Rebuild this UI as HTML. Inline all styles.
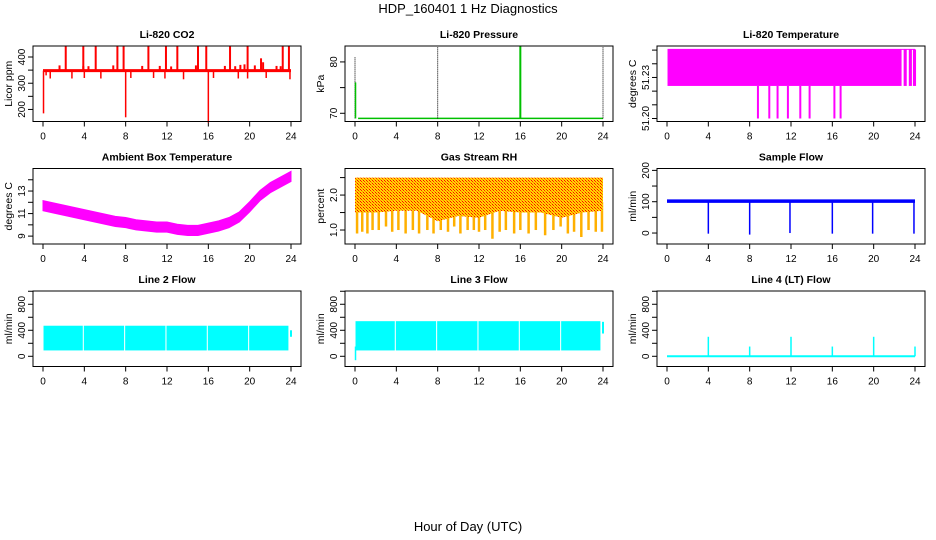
<!DOCTYPE html>
<html><head><meta charset="utf-8"><style>
body{margin:0;background:#fff}
svg{display:block;font-family:"Liberation Sans",sans-serif}
</style></head><body>
<svg id="c" width="936" height="540" viewBox="0 0 936 540">
<defs>
<pattern id="rhpat" width="3" height="3" patternUnits="userSpaceOnUse">
<rect width="3" height="3" fill="#ffd800"/><rect width="1" height="1" fill="#ff0000"/><rect x="1" y="1" width="1" height="1" fill="#ff2000"/><rect x="2" y="2" width="1" height="1" fill="#ff8000"/>
</pattern>
</defs>
<text x="468" y="13" text-anchor="middle" font-size="13">HDP_160401  1 Hz Diagnostics</text>
<text x="468" y="531" text-anchor="middle" font-size="13">Hour of Day (UTC)</text>
</svg>
<script>
const hourTicks=[0,4,8,12,16,20,24];
// CO2
const co2Base=348;
const co2UpHours=[2.2,3.9,5.1,7.2,7.8,10.2,11.9,13.0,15.0,15.8,18.1,19.8,21.1,23.2,23.8];
const co2UpVals=[440,440,440,440,440,440,440,440,440,440,440,442,395,440,440];
const co2DownHours=[0.3,0.7,2.8,4.0,5.6,8.5,10.7,11.8,13.6,16.5,18.9,19.8,21.6,23.9];
const co2DownVals=[330,318,318,320,318,320,320,318,315,320,318,318,320,315];
const co2BigDipHours=[0.05,8.0,16.0];
const co2BigDipVals=[185,170,150];
const co2BumpHours=[1.6,3.9,4.4,6.8,9.6,11.3,12.4,14.8,17.6,18.6,19.1,19.5,20.5,21.3,22.6,23.0];
const co2BumpVals=[368,365,365,368,366,366,364,368,366,365,370,372,368,380,366,365];
// Pressure
const presBase=69;
const presSpikeHours=[0.0,8.0,16.0,24.0];
const presSpikeVals=[81,83,83,83];
// Li-820 temperature
const ltBandLow=51.2238, ltBandHigh=51.2505, ltBandStart=0.05, ltBandEnd=22.7;
const ltGapHours=[22.9,23.4,23.8];
const ltDipHours=[8.8,9.9,10.7,11.7,12.9,13.8,16.2,16.8];
const ltDipVals=[51.2,51.2,51.2,51.2,51.2,51.2,51.2,51.2];
// Ambient box temperature
const ambHours=[0,1,2,3,4,5,6,7,8,9,10,11,12,13,14,15,16,17,18,19,20,21,22,23,24];
const ambVals=[11.7,11.5,11.3,11.1,10.9,10.7,10.5,10.3,10.2,10.0,9.9,9.8,9.8,9.6,9.5,9.5,9.7,9.9,10.2,10.7,11.6,12.6,13.3,13.8,14.3];
// Gas stream RH
const rhTop=2.5;
const rhLowHours=[0,2,4,6,8,10,12,14,16,18,20,22,24];
const rhLowVals=[1.5,1.5,1.55,1.55,1.25,1.4,1.35,1.55,1.5,1.5,1.35,1.5,1.55];
const rhSpikeHours=[0.2,0.7,1.2,1.7,2.3,3.0,3.6,4.2,4.9,5.6,6.2,7.0,7.6,8.3,9.0,9.6,10.2,10.9,11.5,12.0,12.6,13.3,14.0,14.6,15.4,16.0,16.8,17.5,18.4,19.2,19.9,20.6,21.2,21.9,22.6,23.3,23.9];
const rhSpikeVals=[0.9,0.95,0.9,1.0,1.0,1.1,0.95,1.0,0.9,1.0,0.9,1.0,0.9,1.0,0.95,1.1,0.9,1.0,1.0,0.95,1.0,0.75,0.95,1.0,0.9,1.0,0.9,1.0,0.85,1.0,1.1,0.9,0.95,0.8,1.0,0.95,0.95];
// Sample flow
const sfBase=102;
const sfDipHours=[4.0,8.0,11.9,16.0,19.9,23.9];
const sfDipVals=[-2,-5,0,-2,-2,-2];
// Line flows
const l2Low=90, l2High=470;
const l3Low=90, l3High=540;
const flowGapHours=[3.9,7.9,11.9,15.9,19.9];
const l4Base=0;
const l4SpikeHours=[4,8,12,16,20,24];
const l4SpikeVals=[300,150,300,150,300,150];

const svg=document.getElementById('c');
const NS='http://www.w3.org/2000/svg';
function mk(tag,attrs,parent){const e=document.createElementNS(NS,tag);for(const k in attrs)e.setAttribute(k,attrs[k]);(parent||svg).appendChild(e);return e;}

const colLeft=[33,345,657], rowTop=[46,168.5,291], W=268, H=75.5;
function panel(c,r,title,ylab,yMin,yMax,ticks,labels,name){
  const g=mk('g',{});
  
  
  const L=colLeft[c],T=rowTop[r];
  const x=h=>L+10+h*(W-20)/24;
  const y=v=>T+H-(v-yMin)/(yMax-yMin)*H;
  const t=mk('text',{x:L+W/2,y:T-8,'text-anchor':'middle','font-size':10.5,'font-weight':'bold'},g);
  t.textContent=title;
  
  
  const yl=mk('text',{x:0,y:0,transform:`translate(${L-21},${T+H/2}) rotate(-90)`,'text-anchor':'middle','font-size':10.5},g);
  yl.textContent=ylab;
  
  
  const xa=mk('g',{},g);
  
  
  mk('line',{x1:x(0),x2:x(24),y1:T+H,y2:T+H,stroke:'#000'},xa);
  hourTicks.forEach(h=>{
    mk('line',{x1:x(h),x2:x(h),y1:T+H,y2:T+H+5,stroke:'#000'},xa);
    const tl=mk('text',{x:x(h),y:T+H+18,'text-anchor':'middle','font-size':10},xa);
    tl.textContent=h;
  });
  const ya=mk('g',{},g);
  
  
  mk('line',{x1:L,x2:L,y1:y(ticks[0]),y2:y(ticks[ticks.length-1]),stroke:'#000'},ya);
  ticks.forEach((v,i)=>{
    mk('line',{x1:L-5,x2:L,y1:y(v),y2:y(v),stroke:'#000'},ya);
    if(labels[i]){const tl=mk('text',{x:0,y:0,transform:`translate(${L-8},${y(v)}) rotate(-90)`,'text-anchor':'middle','font-size':10},ya);tl.textContent=labels[i];}
  });
  const data=mk('g',{},g);
  
  
  const box=mk('rect',{x:L,y:T,width:W,height:H,fill:'none',stroke:'#000'},g);
  
  
  return {x,y,g:data};
}
function vline(p,h,v1,v2,col,w,extra){return mk('line',Object.assign({x1:p.x(h),x2:p.x(h),y1:p.y(v1),y2:p.y(v2),stroke:col,'stroke-width':w||1.5},extra||{}),p.g);}

// CO2
let p=panel(0,0,'Li-820 CO2','Licor ppm',154,442,[200,250,300,350,400],['200','','300','','400'],'co2');
co2UpHours.forEach((h,i)=>vline(p,h,co2Base,co2UpVals[i],'#f00',2));
co2DownHours.forEach((h,i)=>vline(p,h,co2Base,co2DownVals[i],'#f00',1.5));
co2BumpHours.forEach((h,i)=>vline(p,h,co2Base,co2BumpVals[i],'#f00',2));
co2BigDipHours.forEach((h,i)=>vline(p,h,co2Base,co2BigDipVals[i],'#f00',1.5));
mk('line',{x1:p.x(0),x2:p.x(24),y1:p.y(co2Base),y2:p.y(co2Base),stroke:'#f00','stroke-width':3},p.g);

// Pressure
p=panel(1,0,'Li-820 Pressure','kPa',68.4,83.1,[70,75,80],['70','','80'],'pressure');
mk('line',{x1:p.x(0.3),x2:p.x(24),y1:p.y(presBase),y2:p.y(presBase),stroke:'#00c000','stroke-width':1.5},p.g);
presSpikeHours.forEach((h,i)=>vline(p,h,presBase,presSpikeVals[i],i==2?'#00c000':'#000',i==2?2:1,{'stroke-dasharray':i==2?'none':'1,1'}));
vline(p,0.05,presBase,76,'#00c000',1.5);

// Li-820 temperature
p=panel(2,0,'Li-820 Temperature','degrees C',51.1978,51.253,[51.20,51.21,51.22,51.23,51.24,51.25],['51.20','','','51.23','',''],'li820-temp');
ltDipHours.forEach((h,i)=>vline(p,h,ltBandLow,ltDipVals[i],'#f0f',2));
mk('rect',{x:p.x(ltBandStart),y:p.y(ltBandHigh),width:p.x(ltBandEnd)-p.x(ltBandStart),height:p.y(ltBandLow)-p.y(ltBandHigh),fill:'#f0f'},p.g);
ltGapHours.forEach(h=>mk('rect',{x:p.x(h),y:p.y(ltBandHigh),width:p.x(h+0.3)-p.x(h),height:p.y(ltBandLow)-p.y(ltBandHigh),fill:'#f0f'},p.g));
mk('line',{x1:p.x(ltBandStart),x2:p.x(24),y1:p.y(ltBandHigh),y2:p.y(ltBandHigh),stroke:'#f0f','stroke-width':1},p.g);

// Ambient
p=panel(0,1,'Ambient Box Temperature','degrees C',8.3,15.0,[9,10,11,12,13,14],['9','','11','','13',''],'ambient-temp');
let topPts=ambHours.map((h,i)=>p.x(h)+','+p.y(ambVals[i]+0.45)).join(' ');
let botPts=ambHours.slice().reverse().map((h,i)=>p.x(h)+','+p.y(ambVals[ambVals.length-1-i]-0.45)).join(' ');
mk('polygon',{points:topPts+' '+botPts,fill:'#f0f',stroke:'#f0f','stroke-width':1},p.g);

// RH
p=panel(1,1,'Gas Stream RH','percent',0.6,2.76,[1.0,1.5,2.0,2.5],['1.0','','2.0',''],'gas-rh');
rhSpikeHours.forEach((h,i)=>vline(p,h,1.8,rhSpikeVals[i],'#ffb000',2.5));
topPts=rhLowHours.map(h=>p.x(h)+','+p.y(rhTop)).join(' ');
botPts=rhLowHours.slice().reverse().map((h,i)=>p.x(h)+','+p.y(rhLowVals[rhLowVals.length-1-i])).join(' ');
mk('polygon',{points:topPts+' '+botPts,fill:'url(#rhpat)'},p.g);

// Sample flow
p=panel(2,1,'Sample Flow','ml/min',-35,206,[0,50,100,150,200],['0','','100','','200'],'sample-flow');
sfDipHours.forEach((h,i)=>vline(p,h,sfBase,sfDipVals[i],'#00f',1.5));
mk('line',{x1:p.x(0),x2:p.x(24),y1:p.y(sfBase),y2:p.y(sfBase),stroke:'#00f','stroke-width':3.5},p.g);

// Line flows
function flowBand(p,lo,hi){
  let edges=[0].concat(flowGapHours,[23.8]);
  for(let i=0;i<edges.length-1;i++){
    const a=edges[i]+0.05,b=edges[i+1]-0.05;
    mk('rect',{x:p.x(a),y:p.y(hi),width:p.x(b)-p.x(a),height:p.y(lo)-p.y(hi),fill:'#0ff'},p.g);
  }
}
p=panel(0,2,'Line 2 Flow','ml/min',-157,1004,[0,200,400,600,800,1000],['0','','400','','800',''],'line2-flow');
flowBand(p,l2Low,l2High);
vline(p,24,300,400,'#0ff',2);
p=panel(1,2,'Line 3 Flow','ml/min',-157,1004,[0,200,400,600,800,1000],['0','','400','','800',''],'line3-flow');
flowBand(p,l3Low,l3High);
vline(p,0.05,-60,150,'#0ff',1.5);
vline(p,24,350,530,'#0ff',2);
p=panel(2,2,'Line 4 (LT) Flow','ml/min',-157,1004,[0,200,400,600,800,1000],['0','','400','','800',''],'line4-flow');
l4SpikeHours.forEach((h,i)=>vline(p,h,l4Base,l4SpikeVals[i],'#0ff',1.5));
mk('line',{x1:p.x(0),x2:p.x(24),y1:p.y(l4Base),y2:p.y(l4Base),stroke:'#0ff','stroke-width':2},p.g);
</script>
</body></html>
